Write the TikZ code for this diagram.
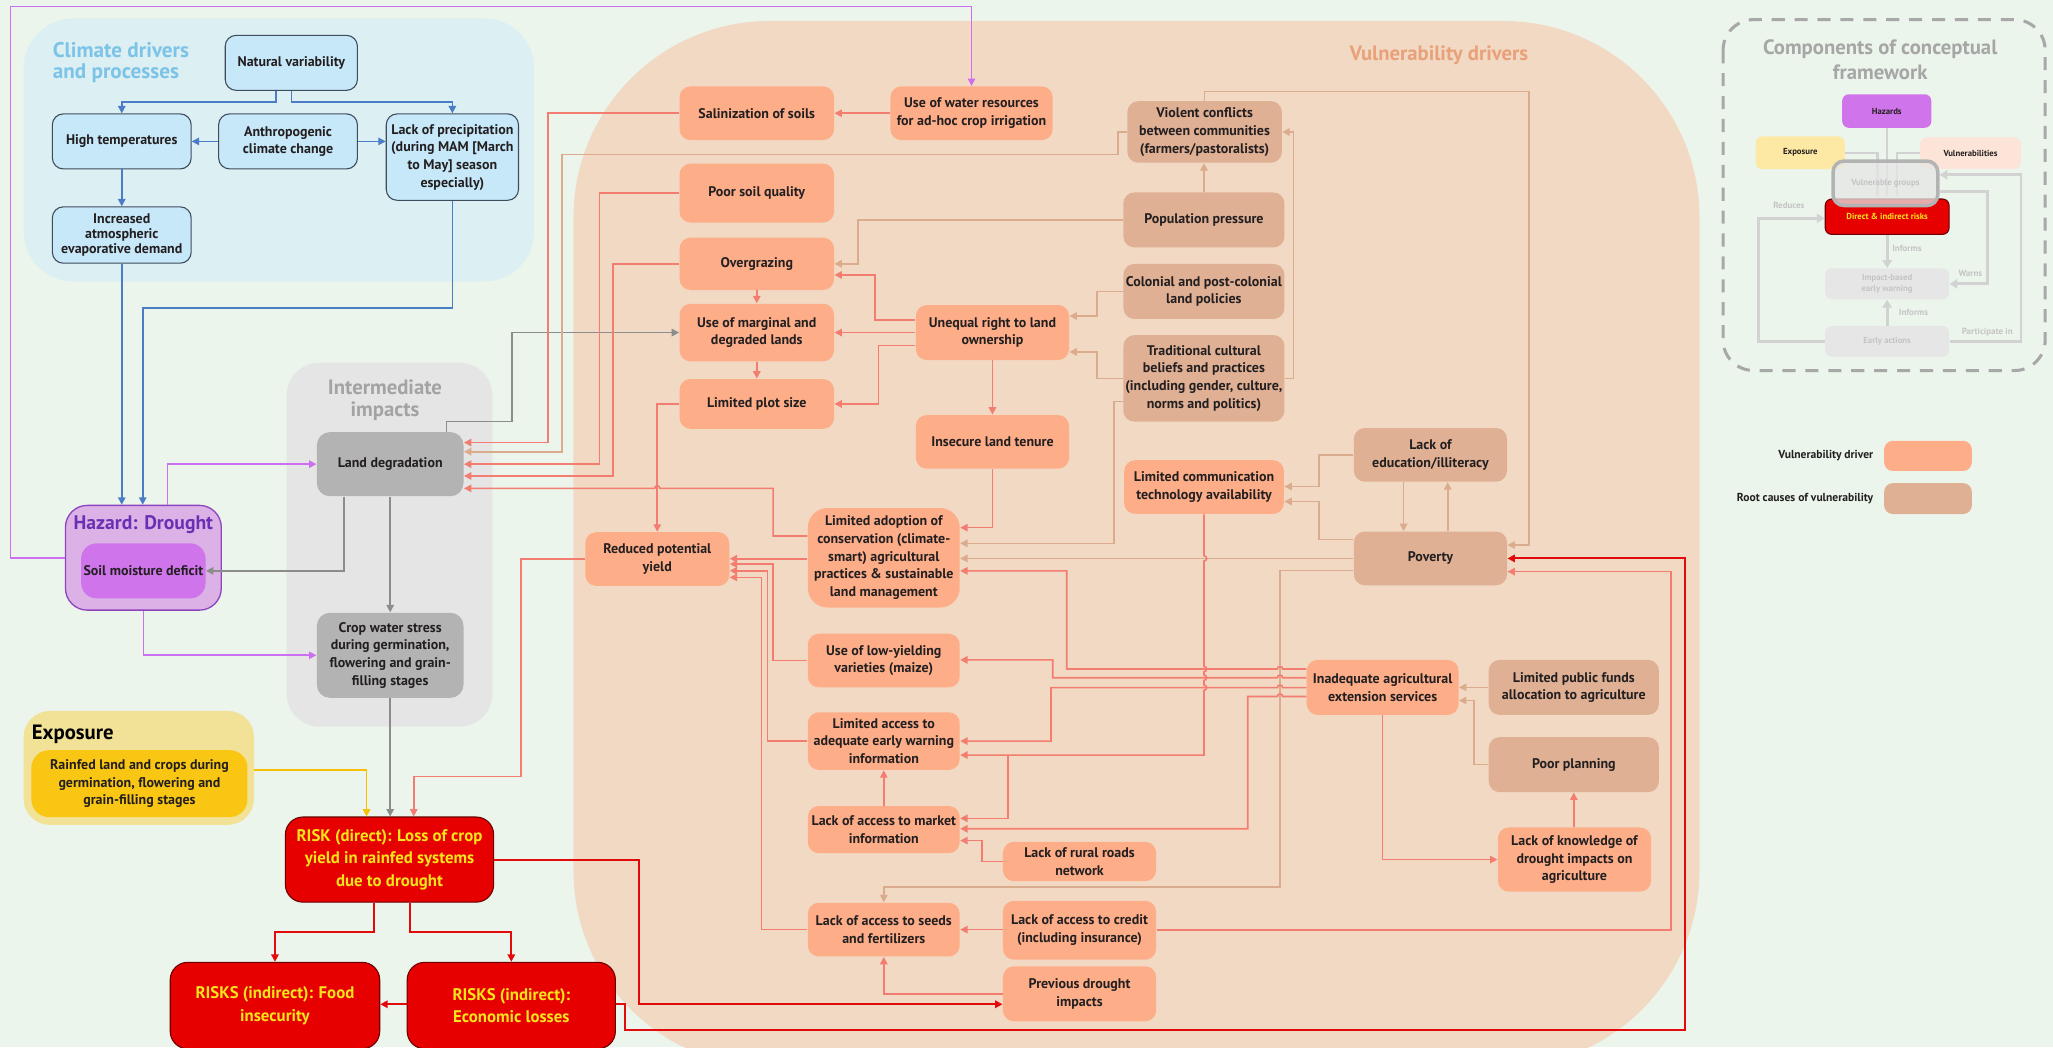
\documentclass[tikz,border=0pt]{standalone}
\usepackage{fontspec}
\setmainfont{PT Sans}
\newfontfamily\titlefont{PT Sans}
\usetikzlibrary{arrows.meta,calc}

\definecolor{cpage}{HTML}{EBF5EC}
\definecolor{cclimbg}{HTML}{DCEFF3}
\definecolor{cclimbox}{HTML}{C7E8F9}
\definecolor{cclimbd}{HTML}{3E4C5C}
\definecolor{cclimtxt}{HTML}{7CC3E8}
\definecolor{cblue}{HTML}{4A7DC6}
\definecolor{cinterbg}{HTML}{E5E5E5}
\definecolor{cgraybox}{HTML}{B3B3B3}
\definecolor{cgrayl}{HTML}{8C8C8C}
\definecolor{cintertxt}{HTML}{A3A3A3}
\definecolor{chazbg}{HTML}{DCB1E6}
\definecolor{chazbd}{HTML}{8E44BF}
\definecolor{chazin}{HTML}{CF74EA}
\definecolor{chaztxt}{HTML}{6A30B4}
\definecolor{cmag}{HTML}{CC6FF0}
\definecolor{cexpbg}{HTML}{F2E298}
\definecolor{cexpin}{HTML}{F9C613}
\definecolor{cyell}{HTML}{F6C000}
\definecolor{cred}{HTML}{E60000}
\definecolor{cdkred}{HTML}{6A0000}
\definecolor{credl}{HTML}{E20A0A}
\definecolor{crisktxt}{HTML}{F7E51C}
\definecolor{cvulbg}{HTML}{F2D9C3}
\definecolor{cdrv}{HTML}{FDAE89}
\definecolor{croot}{HTML}{DFB094}
\definecolor{csal}{HTML}{F47D72}
\definecolor{ctan}{HTML}{DAAB8D}
\definecolor{cvultxt}{HTML}{E8A17A}
\definecolor{ctext}{HTML}{231F20}
\definecolor{clgd}{HTML}{A8A8A8}
\definecolor{clgt}{HTML}{A6A6A6}
\definecolor{clgl}{HTML}{D2D2D2}
\definecolor{clgbox}{HTML}{E6E6E6}
\definecolor{clgtxt}{HTML}{C4C4C4}
\definecolor{clgexp}{HTML}{FDE9A3}
\definecolor{clgvul}{HTML}{FDE4D8}

\tikzset{
  wh/.style 2 args={minimum width=#1*0.6pt, minimum height=#2*0.6pt},
  txtbase/.style={inner sep=0.5pt, align=center, text=ctext,
    font=\fontsize{6.4}{8.1}\selectfont\bfseries},
  cbox/.style={txtbase, fill=cclimbox, draw=cclimbd, line width=0.5pt, rounded corners=5pt},
  gbox/.style={txtbase, fill=cgraybox, rounded corners=6pt},
  drv/.style={txtbase, fill=cdrv, rounded corners=5pt},
  root/.style={txtbase, fill=croot, rounded corners=5pt},
  rsk/.style={txtbase, fill=cred, draw=cdkred, line width=0.5pt, rounded corners=8pt,
    text=crisktxt, font=\fontsize{7.7}{10.4}\selectfont\bfseries},
  bigtitle/.style={inner sep=0pt, align=center, font=\titlefont\fontsize{9.5}{10.2}\selectfont\bfseries},
  ln/.style={line width=0.75pt, -{Triangle[length=3.4pt,width=3.4pt]}},
  sl/.style={ln, draw=csal},
  tn/.style={ln, draw=ctan},
  bl/.style={ln, draw=cblue},
  gy/.style={ln, draw=cgrayl, line width=0.8pt},
  mg/.style={ln, draw=cmag},
  rd/.style={ln, draw=credl, line width=0.9pt},
  yl/.style={ln, draw=cyell, line width=0.8pt},
  lgbox/.style={inner sep=0pt, align=center, rounded corners=3pt,
    font=\fontsize{4}{4.9}\selectfont\bfseries},
  lgline/.style={draw=clgl, line width=1.3pt, -{Triangle[length=3.6pt,width=4.2pt]}},
  lglab/.style={inner sep=0pt, anchor=west, text=clgtxt, font=\fontsize{4.1}{5}\selectfont\bfseries},
  keytxt/.style={inner sep=0pt, anchor=east, text=ctext, font=\fontsize{5.3}{6}\selectfont\bfseries},
}

\begin{document}
\begin{tikzpicture}[x=0.6pt, y=-0.6pt]
\useasboundingbox (0,0) rectangle (1568,800);
\fill[cpage] (0,0) rectangle (1568,800);

% ---------- large background panels ----------
\fill[cclimbg, rounded corners=23pt] (18,14) rectangle (408,215);
\fill[cinterbg, rounded corners=15pt] (219,277) rectangle (376,555);
\fill[cvulbg, rounded corners=90pt] (438,16) rectangle (1298,815);

\node[bigtitle, anchor=west, align=left, text=cclimtxt, font=\titlefont\fontsize{9.7}{9.6}\selectfont\bfseries] (tclim) at (40,48) {Climate drivers\\and processes};
\node[bigtitle, text=cintertxt] (tinter) at (294,305.5) {Intermediate\\impacts};
\node[bigtitle, text=cvultxt] (tvul) at (1099,42) {Vulnerability drivers};

% ---------- climate drivers ----------
\node[cbox, wh={101}{42}] (nv) at (222.5,48) {Natural variability};
\node[cbox, wh={106}{42}] (ht) at (93,108) {High temperatures};
\node[cbox, wh={106}{42}] (ac) at (220,108) {Anthropogenic\\climate change};
\node[cbox, wh={101}{66}] (lp) at (345.5,120) {Lack of precipitation\\(during MAM [March\\to May] season\\especially)};
\node[cbox, wh={106}{43}, font=\fontsize{6.4}{6.9}\selectfont\bfseries] (ia) at (93,179.5) {Increased\\atmospheric\\evaporative demand};

% ---------- hazard ----------
\node[fill=chazbg, draw=chazbd, line width=0.6pt, rounded corners=10pt, wh={119}{80}] (hz) at (109.5,426) {};
\node[bigtitle, text=chaztxt, font=\titlefont\fontsize{9}{10}\selectfont\bfseries] (hzt) at (109.5,401) {Hazard: Drought};
\node[txtbase, fill=chazin, rounded corners=7pt, wh={95}{42}] (smd) at (109.5,436) {Soil moisture deficit};

% ---------- intermediate impacts ----------
\node[gbox, wh={112}{49}] (ld) at (298,354.5) {Land degradation};
\node[gbox, wh={112}{65}] (cws) at (298,500.5) {Crop water stress\\during germination,\\flowering and grain-\\filling stages};

% ---------- exposure ----------
\node[fill=cexpbg, rounded corners=12pt, wh={176}{87}] (expbg) at (106,586.5) {};
\node[bigtitle, anchor=west, text=black] (texp) at (24,561) {Exposure};
\node[txtbase, fill=cexpin, rounded corners=8pt, wh={165}{51}] (exin) at (106.5,598.5) {Rainfed land and crops during\\germination, flowering and\\grain-filling stages};

% ---------- risks ----------
\node[rsk, wh={159}{65}] (risk) at (297.5,656.5) {RISK (direct): Loss of crop\\yield in rainfed systems\\due to drought};
\node[rsk, wh={160}{66}] (food) at (210,768) {RISKS (indirect): Food\\insecurity};
\node[rsk, wh={159}{66}] (econ) at (390.5,768) {RISKS (indirect):\\Economic losses};

% ---------- vulnerability drivers ----------
\node[drv, wh={118}{41}] (sal) at (578,86.5) {Salinization of soils};
\node[drv, wh={124}{41}] (uwr) at (742,86.5) {Use of water resources\\for ad-hoc crop irrigation};
\node[drv, wh={118}{45}] (pss) at (578,147.5) {Poor soil quality};
\node[drv, wh={118}{40}] (ovg) at (578,201.5) {Overgrazing};
\node[drv, wh={118}{44}] (uml) at (578,254) {Use of marginal and\\degraded lands};
\node[drv, wh={118}{38}] (lps) at (578,308.5) {Limited plot size};
\node[drv, wh={117}{42}] (url) at (758,254) {Unequal right to land\\ownership};
\node[drv, wh={117}{41}] (ilt) at (758,337.5) {Insecure land tenure};
\node[drv, wh={116}{76}, rounded corners=9pt] (lac) at (675,426) {Limited adoption of\\conservation (climate-\\smart) agricultural\\practices \& sustainable\\land management};
\node[drv, wh={110}{41}] (rpy) at (502,427) {Reduced potential\\yield};
\node[drv, wh={116}{41}] (lyv) at (675,504.5) {Use of low-yielding\\varieties (maize)};
\node[drv, wh={116}{44}] (lew) at (675,566) {Limited access to\\adequate early warning\\information};
\node[drv, wh={116}{36}] (lmi) at (675,633.6) {Lack of access to market\\information};
\node[drv, wh={116}{41}] (lsf) at (675,710) {Lack of access to seeds\\and fertilizers};
\node[drv, wh={117}{30}] (rrn) at (824.5,658) {Lack of rural roads\\network};
\node[drv, wh={117}{45}] (lcr) at (824.5,710.5) {Lack of access to credit\\(including insurance)};
\node[drv, wh={117}{42}] (pdi) at (824.5,759) {Previous drought\\impacts};
\node[drv, wh={122}{41}] (lct) at (919.6,372) {Limited communication\\technology availability};
\node[drv, wh={116}{42}] (iae) at (1056,525) {Inadequate agricultural\\extension services};
\node[drv, wh={117}{49}] (lkd) at (1202.5,656.5) {Lack of knowledge of\\drought impacts on\\agriculture};

\node[root, wh={118}{47}] (vcf) at (920,100.8) {Violent conflicts\\between communities\\(farmers/pastoralists)};
\node[root, wh={123}{42}] (ppr) at (919.5,168) {Population pressure};
\node[root, wh={123}{42}] (cpl) at (919.5,222.6) {Colonial and post-colonial\\land policies};
\node[root, wh={123}{66}] (tcb) at (919.5,289) {Traditional cultural\\beliefs and practices\\(including gender, culture,\\norms and politics)};
\node[root, wh={117}{41}] (led) at (1092.5,347.4) {Lack of\\education/illiteracy};
\node[root, wh={117}{41}] (pov) at (1092.5,426.5) {Poverty};
\node[root, wh={130}{42}] (lpf) at (1202,525) {Limited public funds\\allocation to agriculture};
\node[root, wh={130}{42}] (ppl) at (1202,584) {Poor planning};

% ---------- climate connectors ----------
\draw[bl] (nv.south -| 211,0) -- (211,78) -| (ht.north);
\draw[bl] (nv.south -| 222.5,0) -- (222.5,78) -| (lp.north);
\draw[bl] (ac) -- (ht);
\draw[bl] (ac.east) -- (lp.west |- ac.east);
\draw[bl] (ht) -- (ia);
\draw[bl] (ia.south) -- (hz.north -| ia.south);
\draw[bl] (lp.south) |- (109,235) -- (hz.north -| 109,0);

% ---------- hazard connectors ----------
\draw[mg] (hz.west |- 0,426) -- (8,426) -- (8,5) -| (uwr.north);
\draw[mg] (hz.north -| 128,0) |- (ld.west);
\draw[mg] (hz.south -| 109.5,0) |- (cws.west);

% ---------- intermediate impacts connectors ----------
\draw[gy] (ld.south -| 263,0) |- (smd.east);
\draw[gy] (ld) -- (cws);
\draw[gy] (ld.north -| 341,0) -- (341,322) -- (391,322) |- (uml.west);
\draw[gy] (cws) -- (risk.north -| cws.south);

% ---------- exposure and risk connectors ----------
\draw[yl] (expbg.east |- 0,588) -| (risk.north -| 280,0);
\draw[sl] (rpy.west) -- (398,427) |- (316,593) -- (risk.north -| 316,0);
\draw[rd] (risk.south -| 286,0) -- (286,712) -| (food.north);
\draw[rd] (risk.south -| 313,0) -- (313,712) -| (econ.north);
\draw[rd] (econ.west |- 0,767) -- (food.east |- 0,767);
\draw[rd] (econ.east |- 0,767) -- (477,767) -- (477,787) -- (1287,787) |- (pov.east);
\draw[rd] (risk.east |- 0,657) -- (488,657) |- (pdi.west |- 0,767);

% ---------- into land degradation ----------
\draw[sl] (uwr) -- (sal);
\draw[sl] (sal.west) -| (418.6,338) -- (ld.east |- 0,338);
\draw[tn] (vcf.west) -- (854,100.8) |- (429,118) -- (429,345) -- (ld.east |- 0,345);
\draw[sl] (pss.west) -| (458,354.5) -- (ld.east);
\draw[sl] (ovg.west) -| (468,363.5) -- (ld.east |- 0,363.5);
\draw[sl] (lac.west |- 0,409.4) -| (590.5,373) -- (504,373) arc[start angle=0,end angle=-180,radius=2] -- (ld.east |- 0,373);

% ---------- land use column ----------
\draw[tn] (ppr.west) -| (655.5,201.5) -- (ovg.east);
\draw[sl] (url.west |- 0,244.5) -| (668.5,210) -- (ovg.east |- 0,210);
\draw[sl] (url.west) -- (uml.east);
\draw[sl] (url.west |- 0,264) -| (671,308.5) -- (lps.east);
\draw[sl] (ovg) -- (uml);
\draw[sl] (uml) -- (lps);
\draw[sl] (lps.west) -| (rpy.north);
\draw[sl] (url) -- (ilt);
\draw[sl] (ilt.south) |- (lac.east |- 0,403);

% ---------- root causes ----------
\draw[tn] (cpl.west) -| (837.6,241.4) -- (url.east |- 0,241.4);
\draw[tn] (tcb.west) -| (837.6,268.8) -- (url.east |- 0,268.8);
\draw[tn] (tcb.east) -| (988,100.8) -- (vcf.east |- 0,100.8);
\draw[tn] (ppr) -- (vcf.south -| ppr.north);
\draw[tn] (tcb.west |- 0,306.7) -| (850.6,415) -- (lac.east |- 0,415);
\draw[tn] (pov.west) -- (lac.east |- pov.west);
\draw[tn] (vcf.north) |- (1168,69.8) -- (1168,416.3) -- (pov.east |- 0,416.3);
\draw[tn] (led.west) -| (1007.3,371.6) -- (lct.east |- 0,371.6);
\draw[tn] (pov.west |- 0,412) -| (1007.3,383) -- (lct.east |- 0,383);
\draw[tn] (led.south -| 1072,0) -- (pov.north -| 1072,0);
\draw[tn] (pov.north -| 1105.7,0) -- (led.south -| 1105.7,0);
\draw[tn] (pov.west |- 0,435.6) -| (977.6,677.6) -| (lsf.north);

% ---------- communication and extension ----------
\draw[sl] (lct.south) -- (919.6,424.5) arc[start angle=-90,end angle=90,radius=2]
  -- (919.6,509) arc[start angle=-90,end angle=90,radius=2]
  -- (919.6,515.6) arc[start angle=-90,end angle=90,radius=2]
  -- (919.6,523.2) arc[start angle=-90,end angle=90,radius=2]
  -- (919.6,576.7) -- (lew.east |- 0,576.7);
\coordinate (jct) at (770,576.7);
\draw[sl] (jct) |- (lmi.east |- 0,625);
\draw[sl] (iae.west |- 0,511) -- (979.6,511) arc[start angle=0,end angle=-180,radius=2] -- (814.7,511) |- (lac.east |- 0,436);
\draw[sl] (iae.west |- 0,517.6) -- (979.6,517.6) arc[start angle=0,end angle=-180,radius=2] -- (804,517.6) |- (lyv.east |- 0,504);
\draw[sl] (iae.west |- 0,525.2) -- (979.6,525.2) arc[start angle=0,end angle=-180,radius=2] -- (802.7,525.2) |- (lew.east |- 0,566);
\draw[sl] (iae.west |- 0,532) -- (979.6,532) arc[start angle=0,end angle=-180,radius=2] -- (953,532) |- (lmi.east |- 0,633);
\draw[sl] (iae.south) |- (lkd.west);
\draw[sl] (lkd.north -| 1202,0) -- (ppl.south -| 1202,0);
\draw[tn] (lpf) -- (iae);
\draw[tn] (ppl.west) -| (1126,535) -- (iae.east |- 0,535);

% ---------- access column ----------
\draw[sl] (lmi) -- (lew);
\draw[sl] (rrn.west) -| (749.8,642) -- (lmi.east |- 0,642);
\draw[sl] (lcr.west |- 0,710) -- (lsf.east |- 0,710);
\draw[sl] (pdi.west) -| (lsf.south);
\draw[sl] (lcr.east) -| (1276,436.6) -- (pov.east |- 0,436.6);

% ---------- into reduced potential yield ----------
\draw[sl] (lac.west |- 0,426.7) -- (rpy.east |- 0,426.7);
\draw[sl] (lyv.west) -| (590.5,430.8) -- (rpy.east |- 0,430.8);
\draw[sl] (lew.west) -| (586.3,435.9) -- (rpy.east |- 0,435.9);
\draw[sl] (lsf.west) -| (581.7,441) -- (rpy.east |- 0,441);

% ---------- framework components panel ----------
\draw[draw=clgd, line width=1.4pt, dash pattern=on 6pt off 4.5pt, rounded corners=14pt] (1316,15) rectangle (1562,283);
\node[bigtitle, text=clgt, font=\titlefont\fontsize{9.5}{11.4}\selectfont\bfseries] (lgtitle) at (1436,45.5) {Components of conceptual\\framework};
\node[lgbox, fill=chazin, text=ctext, wh={68}{25.6}] (lghz) at (1441,84.8) {Hazards};
\node[lgbox, fill=clgexp, text=ctext, wh={68}{25}] (lgexp) at (1375,116.7) {Exposure};
\node[lgbox, fill=clgvul, text=ctext, wh={77}{24}] (lgvul) at (1505,117) {Vulnerabilities};
\draw[draw=clgl, line width=1pt] (lgexp.east) -- (1434,116.7) -- (1434,150);
\draw[draw=clgl, line width=1pt] (lgvul.west) -- (1449,117) -- (1449,150);
\draw[draw=clgl, line width=1pt] (lghz.south) -- (1441,150);
\node[lgbox, fill=cred, draw=cdkred, line width=0.5pt, text=crisktxt, wh={94.6}{27}] (lgdir) at (1441.3,165.5) {Direct \& indirect risks};
\node[lgbox, fill=clgbox, fill opacity=0.75, text opacity=1, draw=cgraybox, line width=1.6pt, rounded corners=5pt, text=clgtxt, wh={80}{34}] (lgvg) at (1440,140) {Vulnerable groups};
\node[lgbox, fill=clgbox, text=clgtxt, wh={94.6}{23.6}] (lgibw) at (1441.3,216.8) {Impact-based\\early warning};
\node[lgbox, fill=clgbox, text=clgtxt, wh={94.6}{23.5}] (lgea) at (1441.3,260.8) {Early actions};
\draw[lgline] (lgdir) -- (lgibw);
\draw[lgline] (lgea) -- (lgibw);
\draw[lgline] (lgea.west) -- (1343,260.8) |- (lgdir.west |- 0,166.8);
\draw[lgline] (lgvg.east |- 0,146) -- (1518,146) |- (lgibw.east);
\draw[lgline] (lgea.east) -- (1543.5,260.8) |- (lgvg.east |- 0,133.5);
\node[lglab] (lbinf1) at (1445,190) {Informs};
\node[lglab] (lbinf2) at (1450,238.6) {Informs};
\node[lglab] (lbred) at (1354,157) {Reduces};
\node[lglab] (lbwarn) at (1495.6,208.7) {Warns};
\node[lglab] (lbpart) at (1498,253.9) {Participate in};

% ---------- colour key ----------
\node[keytxt] (kdtxt) at (1431,348) {Vulnerability driver};
\node[fill=cdrv, rounded corners=4pt, wh={67}{23}] (kdbox) at (1472.5,348.2) {};
\node[keytxt] (krtxt) at (1431,381) {Root causes of vulnerability};
\node[fill=croot, rounded corners=4pt, wh={67}{23.6}] (krbox) at (1472.5,380.8) {};
\end{tikzpicture}
\end{document}
